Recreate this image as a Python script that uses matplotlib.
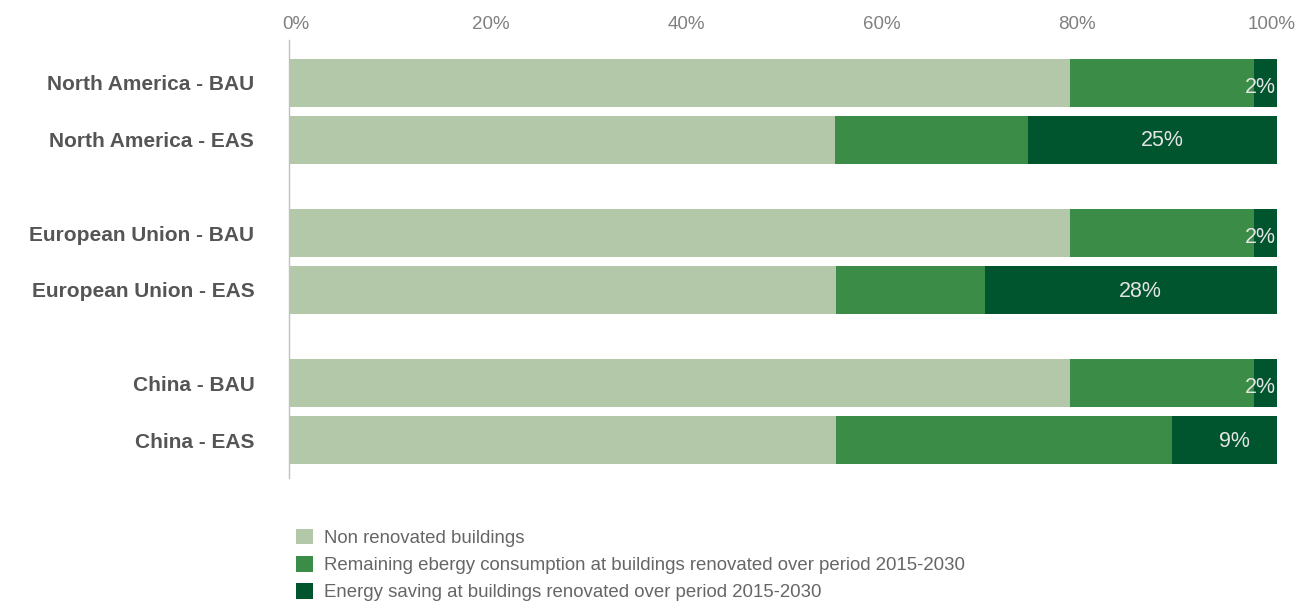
import matplotlib.pyplot as plt
import matplotlib.transforms as mtransforms
from matplotlib.patches import Patch
import numpy as np

# Data (percent of total energy consumption)
CATEGORIES = ["North America - BAU", "North America - EAS",
              "European Union - BAU", "European Union - EAS",
              "China - BAU", "China - EAS"]
NON_RENOVATED = [79.0, 55.3, 79.0, 55.4, 79.0, 55.4]
REMAINING = [18.7, 19.5, 18.7, 15.0, 18.7, 34.0]
SAVING = [2.3, 25.2, 2.3, 29.6, 2.3, 10.6]
SAVING_LABELS = ["2%", "25%", "2%", "28%", "2%", "9%"]
SERIES_NAMES = ["Non renovated buildings",
                "Remaining ebergy consumption at buildings renovated over period 2015-2030",
                "Energy saving at buildings renovated over period 2015-2030"]
X_TICKS = [0, 20, 40, 60, 80, 100]

COLORS = ["#b3c8a8", "#3a8c46", "#00552e"]

plt.rcParams["font.family"] = ["Liberation Sans", "DejaVu Sans"]

fig = plt.figure(figsize=(12.97, 6.02), dpi=100)
ax = fig.add_axes([289 / 1297, 1 - 478 / 602, (1277 - 289) / 1297, (478 - 40) / 602])

# grouped positions: pairs with a wider gap between groups
ypos = np.array([0, 1, 2.64, 3.64, 5.28, 6.28])
h = 0.84

left = np.zeros(len(CATEGORIES))
for vals, col in zip([NON_RENOVATED, REMAINING, SAVING], COLORS):
    ax.barh(ypos, vals, left=left, height=h, color=col, linewidth=0)
    left = left + np.array(vals)

# labels on the saving segment
for y, l, v, lab in zip(ypos, np.array(NON_RENOVATED) + np.array(REMAINING), SAVING, SAVING_LABELS):
    if v < 5:
        ax.text(l + v - 0.1, y + 0.08, lab, ha="right", va="center", color="#e4e4e4", fontsize=15.5)
    else:
        ax.text(l + v / 2 + 1.0, y + 0.02, lab, ha="center", va="center", color="#e4e4e4", fontsize=15.5)

ax.set_xlim(0, 100)
ax.set_ylim(6.28 + 0.667, -0.754)
ax.set_yticks(ypos)
ax.set_yticklabels(CATEGORIES, fontsize=15, fontweight="bold", color="#555555")
ax.set_xticks(X_TICKS)
ax.set_xticklabels([f"{t}%" for t in X_TICKS], fontsize=13.5, color="#808080")
ax.xaxis.tick_top()
ax.tick_params(axis="x", length=0, pad=5)
ax.tick_params(axis="y", length=0, pad=25)

# tick labels in the original sit slightly inward (0% right, 100% left)
for t, lbl in zip(X_TICKS, ax.get_xticklabels()):
    dx = (7 - 0.12 * t) / 100
    lbl.set_transform(lbl.get_transform() + mtransforms.ScaledTranslation(dx, 0, fig.dpi_scale_trans))

for s in ["top", "right", "bottom"]:
    ax.spines[s].set_visible(False)
ax.spines["left"].set_color("#c0c0c0")
ax.spines["left"].set_linewidth(1)

handles = [Patch(facecolor=c, edgecolor="none") for c in COLORS]
fig.legend(handles, SERIES_NAMES, loc="upper left",
           bbox_to_anchor=(296 / 1297, 1 - 529 / 602), frameon=False,
           fontsize=13.4, labelcolor="#666666", handlelength=0.9, handleheight=0.9,
           handletextpad=0.6, labelspacing=0.48, borderpad=0, borderaxespad=0)

fig.savefig("out.png", dpi=100)
